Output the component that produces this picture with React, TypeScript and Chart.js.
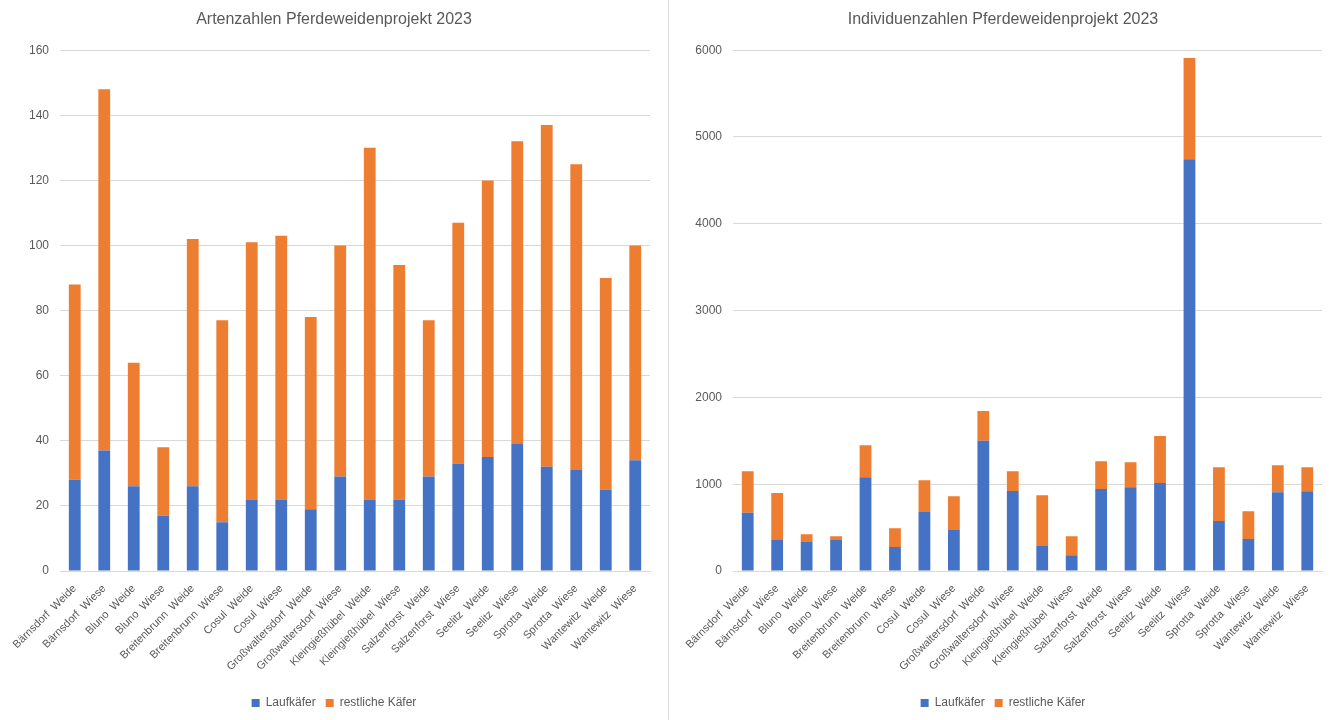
import React, { useEffect, useRef } from "react";
import { Chart, registerables } from "chart.js";

Chart.register(...registerables);

const categories = [
  "Bärnsdorf  Weide",
  "Bärnsdorf  Wiese",
  "Bluno  Weide",
  "Bluno  Wiese",
  "Breitenbrunn  Weide",
  "Breitenbrunn  Wiese",
  "Cosul  Weide",
  "Cosul  Wiese",
  "Großwaltersdorf  Weide",
  "Großwaltersdorf  Wiese",
  "Kleingießhübel  Weide",
  "Kleingießhübel  Wiese",
  "Salzenforst  Weide",
  "Salzenforst  Wiese",
  "Seelitz  Weide",
  "Seelitz  Wiese",
  "Sprotta  Weide",
  "Sprotta  Wiese",
  "Wantewitz  Weide",
  "Wantewitz  Wiese",
];

const seriesNames = ["Laufkäfer", "restliche Käfer"];

// Artenzahlen (species counts)
const artenLaufkaefer = [28, 37, 26, 17, 26, 15, 22, 22, 19, 29, 22, 22, 29, 33, 35, 39, 32, 31, 25, 34];
const artenRestliche = [60, 111, 38, 21, 76, 62, 79, 81, 59, 71, 108, 72, 48, 74, 85, 93, 105, 94, 65, 66];

// Individuenzahlen (individual counts)
const individuenLaufkaefer = [670, 358, 335, 358, 1081, 277, 681, 473, 1500, 923, 288, 181, 946, 965, 1015, 4745, 577, 369, 908, 919];
const individuenRestliche = [480, 542, 88, 42, 369, 215, 365, 389, 342, 227, 585, 219, 319, 289, 539, 1166, 619, 319, 311, 277];

const artenAxis = [0, 160, 20]; // min, max, step
const individuenAxis = [0, 6000, 1000];

const titles = ["Artenzahlen Pferdeweidenprojekt 2023", "Individuenzahlen Pferdeweidenprojekt 2023"];

const FONT = "'Liberation Sans', Arial, sans-serif";
const TEXT = "#595959";
const GRID = "#D9D9D9";
const BLUE = "#4472C4";
const ORANGE = "#ED7D31";

function makeConfig(title: string, lauf: number[], rest: number[], axis: number[], yWidth: number, rightPad: number): any {
  return {
    type: "bar",
    data: {
      labels: categories,
      datasets: [
        { label: seriesNames[0], data: lauf, backgroundColor: BLUE, borderWidth: 0 },
        { label: seriesNames[1], data: rest, backgroundColor: ORANGE, borderWidth: 0 },
      ],
    },
    options: {
      responsive: false,
      animation: false,
      maintainAspectRatio: false,
      categoryPercentage: 1,
      barPercentage: 0.4,
      layout: { padding: { top: 0, bottom: 1, left: 0, right: 0 } },
      plugins: {
        title: {
          display: true,
          text: title,
          color: TEXT,
          font: { family: FONT, size: 16, weight: "normal" },
          padding: { top: 10, bottom: 21 },
        },
        legend: {
          position: "bottom",
          labels: {
            color: TEXT,
            font: { family: FONT, size: 12 },
            boxWidth: 8,
            boxHeight: 8,
            padding: 10,
          },
        },
        tooltip: { enabled: false },
      },
      scales: {
        x: {
          stacked: true,
          grid: { display: false },
          border: { display: true, color: GRID },
          ticks: {
            color: TEXT,
            font: { family: FONT, size: 11 },
            minRotation: 45,
            maxRotation: 45,
            autoSkip: false,
            padding: 3,
          },
          afterFit: (s: any) => {
            s.height = 116;
          },
        },
        y: {
          stacked: true,
          min: axis[0],
          max: axis[1],
          grid: { color: GRID, drawTicks: false },
          border: { display: false },
          ticks: {
            stepSize: axis[2],
            color: TEXT,
            font: { family: FONT, size: 12 },
            padding: 11,
            callback: (v: any) => String(v),
          },
          afterFit: (s: any) => {
            s.width = yWidth;
          },
        },
        spacer: {
          type: "linear",
          position: "right",
          display: true,
          grid: { display: false, drawTicks: false },
          border: { display: false },
          ticks: { display: false },
          afterFit: (s: any) => {
            s.width = rightPad;
          },
        },
      },
    },
  };
}

function ChartBox(props: { left: number; config: any }) {
  const ref = useRef<HTMLCanvasElement | null>(null);
  useEffect(() => {
    if (!ref.current) return;
    const chart = new Chart(ref.current, props.config);
    return () => chart.destroy();
  }, []);
  return (
    <div style={{ position: "absolute", left: props.left, top: 0, width: 668, height: 720 }}>
      <canvas ref={ref} width={668} height={720} style={{ display: "block" }} />
    </div>
  );
}

export default function App() {
  const leftCfg = makeConfig(titles[0], artenLaufkaefer, artenRestliche, artenAxis, 60, 18);
  const rightCfg = makeConfig(titles[1], individuenLaufkaefer, individuenRestliche, individuenAxis, 64, 15);
  return (
    <div style={{ position: "fixed", left: 0, top: 0, width: 1337, height: 720, background: "#fff", overflow: "hidden" }}>
      <ChartBox left={0} config={leftCfg} />
      <div style={{ position: "absolute", left: 668, top: 0, width: 1, height: 720, background: GRID }} />
      <ChartBox left={669} config={rightCfg} />
    </div>
  );
}
